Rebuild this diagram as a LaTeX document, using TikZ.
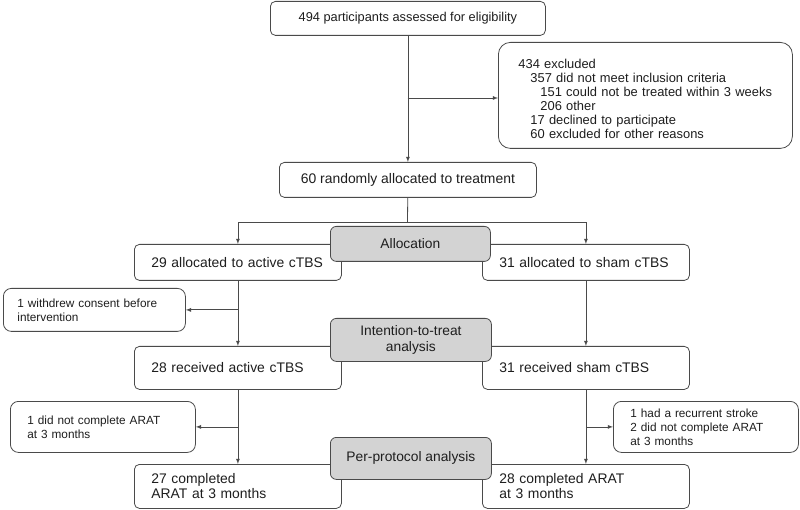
\documentclass[tikz,border=0pt]{standalone}
\usepackage{fontspec}
\setmainfont{Liberation Sans}
\usetikzlibrary{arrows}
\definecolor{linegray}{HTML}{4A4A4A}
\definecolor{stagegray}{HTML}{D3D3D3}
\definecolor{textgray}{HTML}{1E1E1E}
\tikzset{
	box/.style={draw=linegray,line width=0.8pt,rounded corners=5pt,fill=white,text=textgray,anchor=north west,inner sep=0pt,align=center,font=\fontsize{13.9}{15}\selectfont},
	armbox/.style={box,align=left,inner xsep=17pt,text width=173pt,minimum width=207pt},
	sidebox/.style={box,rounded corners=8pt,align=left,inner xsep=17pt,text width=151pt,minimum width=185pt,font=\fontsize{11.8}{14}\selectfont},
	stagebox/.style={box,rounded corners=6pt,fill=stagegray,font=\fontsize{13.8}{16}\selectfont},
}
\begin{document}
\begin{tikzpicture}[x=1pt,y=-1pt]
			\fill [white] (0,0) rectangle (800,510);
			\useasboundingbox (0,0) rectangle (800,510);
			
			\node [box,minimum width=275pt,minimum height=34pt,font=\fontsize{12.8}{14}\selectfont] (N0) at (270,1) {494 participants assessed for eligibility};
			\node [box,rounded corners=12pt,align=left,inner xsep=20pt,text width=254pt,minimum width=294pt,minimum height=106pt,font=\fontsize{12.9}{14}\selectfont] (N1) at (498,42) {\rule{0pt}{17pt}434 excluded\\
				\hspace*{12pt}357 did not meet inclusion criteria\\
				\hspace*{22pt}151 could not be treated within 3 weeks\\
				\hspace*{22pt}206 other\\
				\hspace*{12pt}17 declined to participate\\
				\hspace*{12pt}60 excluded for other reasons};
			\node [box,minimum width=257pt,minimum height=35pt] (N2) at (279,162) {60 randomly allocated to treatment};
			\node [armbox,minimum height=36pt] (N3) at (134,244) {29 allocated to active cTBS};
			\node [armbox,minimum height=36pt] (N4) at (482,244) {31 allocated to sham cTBS};
			\node [sidebox,inner xsep=14pt,text width=154pt,minimum width=182pt,minimum height=43pt] (N5) at (3,288) {1 withdrew consent before\\intervention};
			\node [armbox,minimum height=43pt] (N6) at (134,346) {28 received active cTBS};
			\node [armbox,minimum height=43pt] (N7) at (482,346) {31 received sham cTBS};
			\node [sidebox,minimum height=51pt] (N8) at (10,401) {1 did not complete ARAT\\at 3 months};
			\node [sidebox,minimum height=51pt] (N9) at (613,401) {1 had a recurrent stroke\\2 did not complete ARAT\\at 3 months};
			\node [armbox,minimum height=44pt] (N10) at (134,464) {27 completed\\ARAT at 3 months};
			\node [armbox,minimum height=44pt] (N11) at (482,464) {28 completed ARAT\\at 3 months};
			
			\node [stagebox,minimum width=160pt,minimum height=35pt] (N12) at (330,226) {Allocation};
			\node [stagebox,minimum width=161pt,minimum height=43pt] (N13) at (330,318) {Intention-to-treat\\analysis};
			\node [stagebox,minimum width=161pt,minimum height=42pt] (N14) at (330,437) {Per-protocol analysis};
			
			\coordinate (C0) at (407.5,98);
			\coordinate (C1) at (407.5,222);
			\coordinate (C2) at (N3.south |- N5.east);
			\coordinate (C3) at (N6.south |- N8.east);
			\coordinate (C4) at (N7.south |- N9.west);
			
			\begin{scope}[draw=linegray,line width=0.8pt]
			\draw [-latex] (N0) -- (N2);
			\draw [-latex] (C0) -- (C0 -| N1.west);
			\draw (N2) -- (C1);
			\draw [-latex] (C1) -| (N3);
			\draw [-latex] (C1) -| (N4);
			\draw [-latex] (N3) -- (N6);
			\draw [-latex] (N4) -- (N7);
			\draw [-latex] (N6) -- (N10);
			\draw [-latex] (N7) -- (N11);
			\draw [-latex] (C2) -- (N5);
			\draw [-latex] (C3) -- (N8);
			\draw [-latex] (C4) -- (N9);
			\end{scope}
		\end{tikzpicture}
\end{document}
